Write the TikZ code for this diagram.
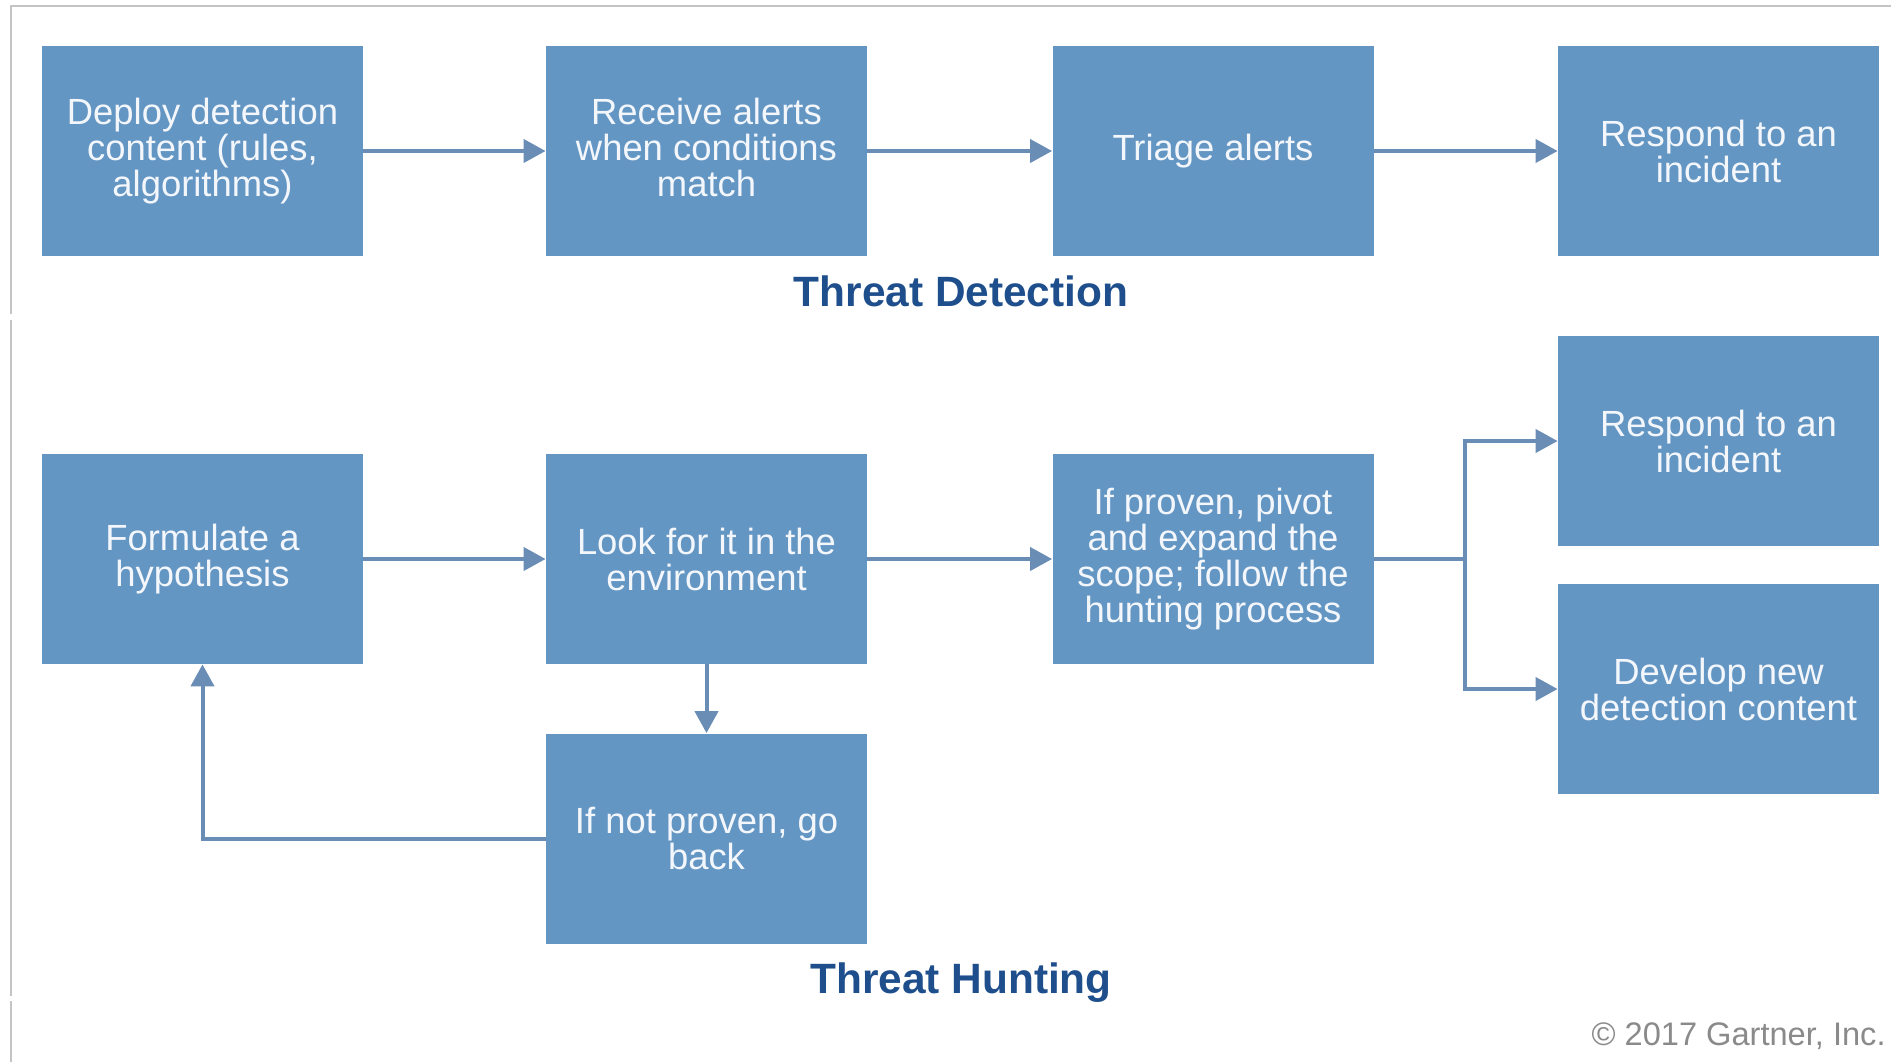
\documentclass[tikz,border=0pt]{standalone}
\usepackage{fontspec}
\setmainfont{Liberation Sans}
\usetikzlibrary{arrows.meta}
\definecolor{boxfill}{HTML}{6496C4}
\definecolor{boxtext}{HTML}{F3F7FB}
\definecolor{arrowcol}{HTML}{6A8DB5}
\definecolor{titlecol}{HTML}{1E4F8C}
\definecolor{framecol}{HTML}{C4C4C4}
\definecolor{copycol}{HTML}{8A8A8A}
\tikzset{
  stepbox/.style={rectangle, fill=boxfill, text=boxtext, minimum width=160.5pt, minimum height=105pt,
    inner sep=0pt, align=center, font=\fontsize{18.2}{18}\selectfont},
  arr/.style={draw=arrowcol, line width=2pt, -{Triangle[length=11pt,width=11.5pt]}},
  conn/.style={draw=arrowcol, line width=2pt},
  titletext/.style={text=titlecol, font=\fontsize{21.2}{24}\selectfont\bfseries},
}
\begin{document}
\begin{tikzpicture}[x=0.5pt, y=-0.5pt]
\useasboundingbox (0,0) rectangle (1891,1062);
\fill[white] (0,0) rectangle (1891,1062);
% frame
\draw[framecol, line width=1pt] (11,314) -- (11,6) -- (1891,6);
\draw[framecol, line width=1pt] (11,320) -- (11,996);
\draw[framecol, line width=1pt] (11,1001) -- (11,1062);
% threat detection row
\node[stepbox] (d1) at (202.5,151) {Deploy detection\\content (rules,\\algorithms)};
\node[stepbox] (d2) at (706.5,151) {Receive alerts\\when conditions\\match\vphantom{g}};
\node[stepbox] (d3) at (1213,151) {Triage alerts};
\node[stepbox] (d4) at (1718.5,151) {Respond to an\\incident};
\node[titletext] (tdet) at (961,291) {Threat Detection};
% threat hunting
\node[stepbox] (h1) at (202.5,559) {Formulate a\\hypothesis};
\node[stepbox] (h2) at (706.5,559) {Look for it in the\\environment};
\node[stepbox] (h3) at (1213,559) {If proven, pivot\\and expand the\\scope; follow the\\hunting process};
\node[stepbox] (h4) at (1718.5,441) {Respond to an\\incident};
\node[stepbox] (h5) at (1718.5,689) {Develop new\\detection content};
\node[stepbox] (h6) at (706.5,838.5) {If not proven, go\\back};
\node[titletext] (thunt) at (961,983) {Threat Hunting};
\node[text=copycol, font=\fontsize{16.3}{18}\selectfont, anchor=east, inner sep=0pt] (copy) at (1886,1036) {© 2017 Gartner, Inc.};
% connectors
\draw[arr] (d1.east) -- (d2.west);
\draw[arr] (d2.east) -- (d3.west);
\draw[arr] (d3.east) -- (d4.west);
\draw[arr] (h1.east) -- (h2.west);
\draw[arr] (h2.east) -- (h3.west);
\draw[arr] (h2.south) -- (h6.north);
\draw[arr] (h6.west) -| (h1.south);
\coordinate (fork) at (1465,559);
\draw[conn] (h3.east) -- (fork);
\draw[arr] (fork) |- (h4.west);
\draw[arr] (fork) |- (h5.west);
\end{tikzpicture}
\end{document}
